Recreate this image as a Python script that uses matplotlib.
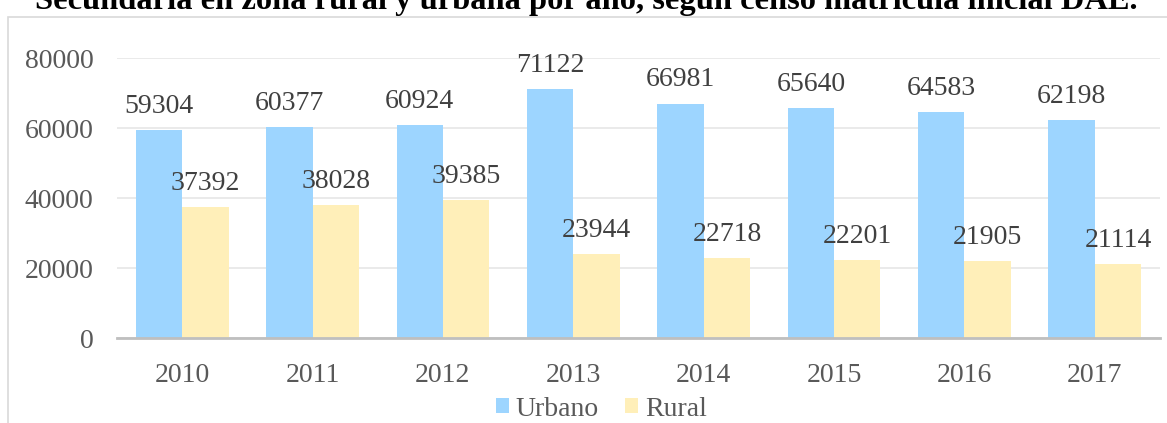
import matplotlib.pyplot as plt
import numpy as np
from matplotlib.patches import Rectangle

years = ['2010', '2011', '2012', '2013', '2014', '2015', '2016', '2017']
urbano = [59304, 60377, 60924, 71122, 66981, 65640, 64583, 62198]
rural = [37392, 38028, 39385, 23944, 22718, 22201, 21905, 21114]

plt.rcParams['font.family'] = ['Liberation Serif', 'DejaVu Serif']
gray = '#595959'

fig = plt.figure(figsize=(11.67, 4.23), dpi=100)
ax = fig.add_axes([117 / 1167, 1 - 338 / 423, (1160 - 117) / 1167, 280 / 423])

# outer chart frame
fig.patches.append(Rectangle((8 / 1167, -0.1), 1.2, 1 - 17 / 423 + 0.1,
                             transform=fig.transFigure, fill=False,
                             edgecolor='#d9d9d9', linewidth=1.2))

# title is cut off at the top edge in the original image
fig.text(0.502, 1 - 9 / 423, 'Secundaria en zona rural y urbana por año, según censo matrícula inicial DAE.',
         ha='center', va='baseline', fontsize=23.4, fontweight='bold', color='black')

x = np.arange(len(years))
w = 0.356
b1 = ax.bar(x - w / 2, urbano, w, color='#9dd5ff', label='Urbano')
b2 = ax.bar(x + w / 2, rural, w, color='#ffefb9', label='Rural')

for bars, vals in [(b1, urbano), (b2, rural)]:
    for r, v in zip(bars, vals):
        ax.annotate(str(v), (r.get_x() + r.get_width() / 2, v), xytext=(0, 8),
                    textcoords='offset points', ha='center', va='bottom',
                    fontsize=20, color='#404040')

ax.set_xlim(-0.5, len(years) - 0.5)
ax.set_ylim(0, 80000)
ax.set_yticks([0, 20000, 40000, 60000, 80000])
ax.set_xticks(x)
ax.set_xticklabels(years)
ax.tick_params(axis='both', length=0, labelsize=20, labelcolor=gray)
ax.tick_params(axis='y', pad=17)
ax.tick_params(axis='x', pad=18)
ax.yaxis.grid(True, color='#e6e6e6', linewidth=1.2)
ax.set_axisbelow(True)
for s in ['top', 'right', 'left']:
    ax.spines[s].set_visible(False)
ax.spines['bottom'].set_color('#bfbfbf')
ax.spines['bottom'].set_linewidth(2)

fig.legend(handles=[b1, b2], loc='center', bbox_to_anchor=(0.5154, 1 - 409 / 423),
           ncol=2, frameon=False, fontsize=20, labelcolor=gray,
           handlelength=0.45, handleheight=0.45, handletextpad=0.25, columnspacing=0.95)

fig.savefig('out.png', dpi=100)
